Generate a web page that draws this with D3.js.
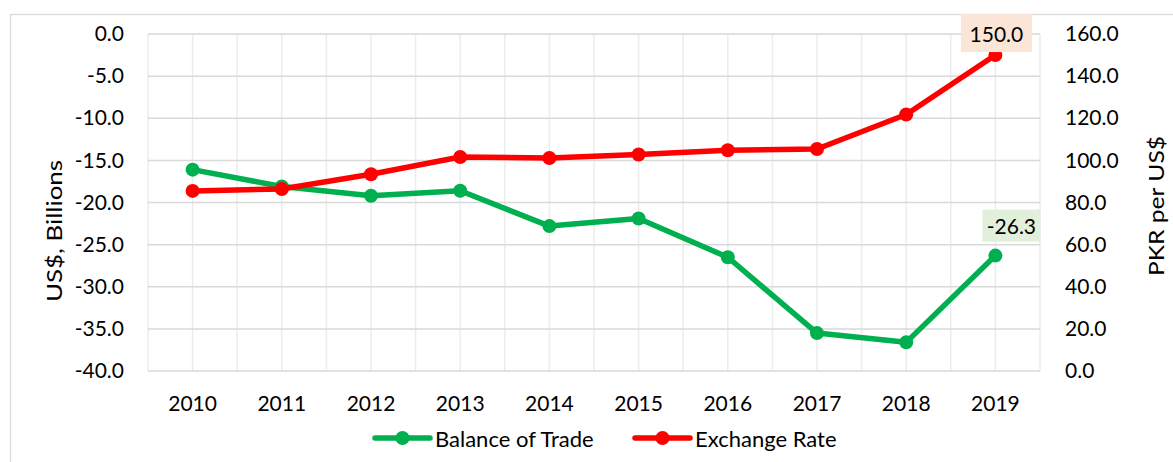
<!DOCTYPE html>
<html><head><meta charset="utf-8">
<script src="https://cdn.jsdelivr.net/npm/d3@7"></script>
<style>
body{margin:0;background:#fff;}
svg text{font-family:Lato, "Open Sans", sans-serif;fill:#000;}
</style></head>
<body><svg id="c" width="1173" height="462"></svg>
<script>
const years = [2010,2011,2012,2013,2014,2015,2016,2017,2018,2019];
const balanceOfTrade = [-16.1,-18.1,-19.2,-18.6,-22.8,-21.9,-26.5,-35.5,-36.6,-26.3];
const exchangeRate = [85.5,86.4,93.4,101.6,101.1,102.8,104.8,105.4,121.8,150.0];
const leftTicks = [0,-5,-10,-15,-20,-25,-30,-35,-40];
const rightTicks = [0,20,40,60,80,100,120,140,160];

const svg = d3.select("#c");
const L=148,R=1040,T=34,B=371;
const green="#00B050", red="#FF0000", grid="#d9d9d9";
const fmt = d => d.toFixed(1);

svg.append("rect").attr("x",10.5).attr("y",14.5).attr("width",1170).attr("height",460)
  .attr("fill","none").attr("stroke",grid).attr("stroke-width",1.3);

const x = d3.scaleBand().domain(years).range([L,R]);
const yL = d3.scaleLinear().domain([-40,0]).range([B,T]);
const yR = d3.scaleLinear().domain([0,160]).range([B,T]);
const cx = d=>x(d)+x.bandwidth()/2;

// gridlines
const g = svg.append("g");
const vx = [];
years.forEach(yv=>{vx.push(x(yv)); vx.push(cx(yv));}); vx.push(R);
g.selectAll("line.v").data(vx).join("line")
  .attr("x1",d=>d).attr("x2",d=>d).attr("y1",T).attr("y2",B)
  .attr("stroke","#ececec").attr("stroke-width",1.5);
g.selectAll("line.h").data(leftTicks).join("line")
  .attr("x1",L).attr("x2",R).attr("y1",d=>yL(d)).attr("y2",d=>yL(d))
  .attr("stroke",grid).attr("stroke-width",1.5);

// axes
const axL = svg.append("g").attr("transform",`translate(${L},0)`)
  .call(d3.axisLeft(yL).tickValues(leftTicks).tickFormat(fmt).tickSize(0).tickPadding(24));
const axR = svg.append("g").attr("transform",`translate(${R},0)`)
  .call(d3.axisRight(yR).tickValues(rightTicks).tickFormat(fmt).tickSize(0).tickPadding(25));
const axB = svg.append("g").attr("transform",`translate(0,${B})`)
  .call(d3.axisBottom(x).tickSize(0).tickPadding(25));
[axL,axR,axB].forEach(a=>{a.select(".domain").remove(); a.selectAll("text").style("font-size","21px").style("font-family","Lato, 'Open Sans', sans-serif").attr("fill","#000");});

// axis titles
svg.append("text").attr("transform","translate(62,231) rotate(-90)").attr("text-anchor","middle")
  .attr("textLength",142).attr("lengthAdjust","spacingAndGlyphs").style("font-size","21px").text("US$, Billions");
svg.append("text").attr("transform","translate(1164,206) rotate(-90)").attr("text-anchor","middle")
  .attr("textLength",140).attr("lengthAdjust","spacingAndGlyphs").style("font-size","21px").text("PKR per US$");

// lines
const lineL = d3.line().x((d,i)=>cx(years[i])).y(d=>yL(d));
const lineR = d3.line().x((d,i)=>cx(years[i])).y(d=>yR(d));
svg.append("path").attr("d",lineL(balanceOfTrade)).attr("fill","none").attr("stroke",green).attr("stroke-width",5.5).attr("stroke-linejoin","round");
svg.selectAll("circle.g").data(balanceOfTrade).join("circle").attr("class","g")
  .attr("cx",(d,i)=>cx(years[i])).attr("cy",d=>yL(d)).attr("r",7).attr("fill",green);
svg.append("path").attr("d",lineR(exchangeRate)).attr("fill","none").attr("stroke",red).attr("stroke-width",5.5).attr("stroke-linejoin","round");
svg.selectAll("circle.r").data(exchangeRate).join("circle").attr("class","r")
  .attr("cx",(d,i)=>cx(years[i])).attr("cy",d=>yR(d)).attr("r",7).attr("fill",red);

// data labels
function label(xc,yc,txt,bg,w,h){
  svg.append("rect").attr("x",xc-w/2).attr("y",yc-h/2).attr("width",w).attr("height",h).attr("fill",bg);
  svg.append("text").attr("x",xc).attr("y",yc).attr("text-anchor","middle").attr("dominant-baseline","central")
    .style("font-size","21px").text(txt);
}
const last = years.length-1;
label(cx(years[last])+1, yR(exchangeRate[last])-22, fmt(exchangeRate[last]), "#FBE5D6", 71, 38);
label(cx(years[last])+16, yL(balanceOfTrade[last])-30, fmt(balanceOfTrade[last]), "#E2EFDA", 58, 32);

// legend
const leg = [{n:"Balance of Trade",c:green,x:375},{n:"Exchange Rate",c:red,x:635}];
leg.forEach(l=>{
  svg.append("line").attr("x1",l.x).attr("x2",l.x+55).attr("y1",438).attr("y2",438).attr("stroke",l.c).attr("stroke-width",5.5).attr("stroke-linecap","round");
  svg.append("circle").attr("cx",l.x+27.5).attr("cy",438).attr("r",7).attr("fill",l.c);
  svg.append("text").attr("x",l.x+60).attr("y",438).attr("dominant-baseline","central").style("font-size","22px").text(l.n);
});
</script></body></html>
